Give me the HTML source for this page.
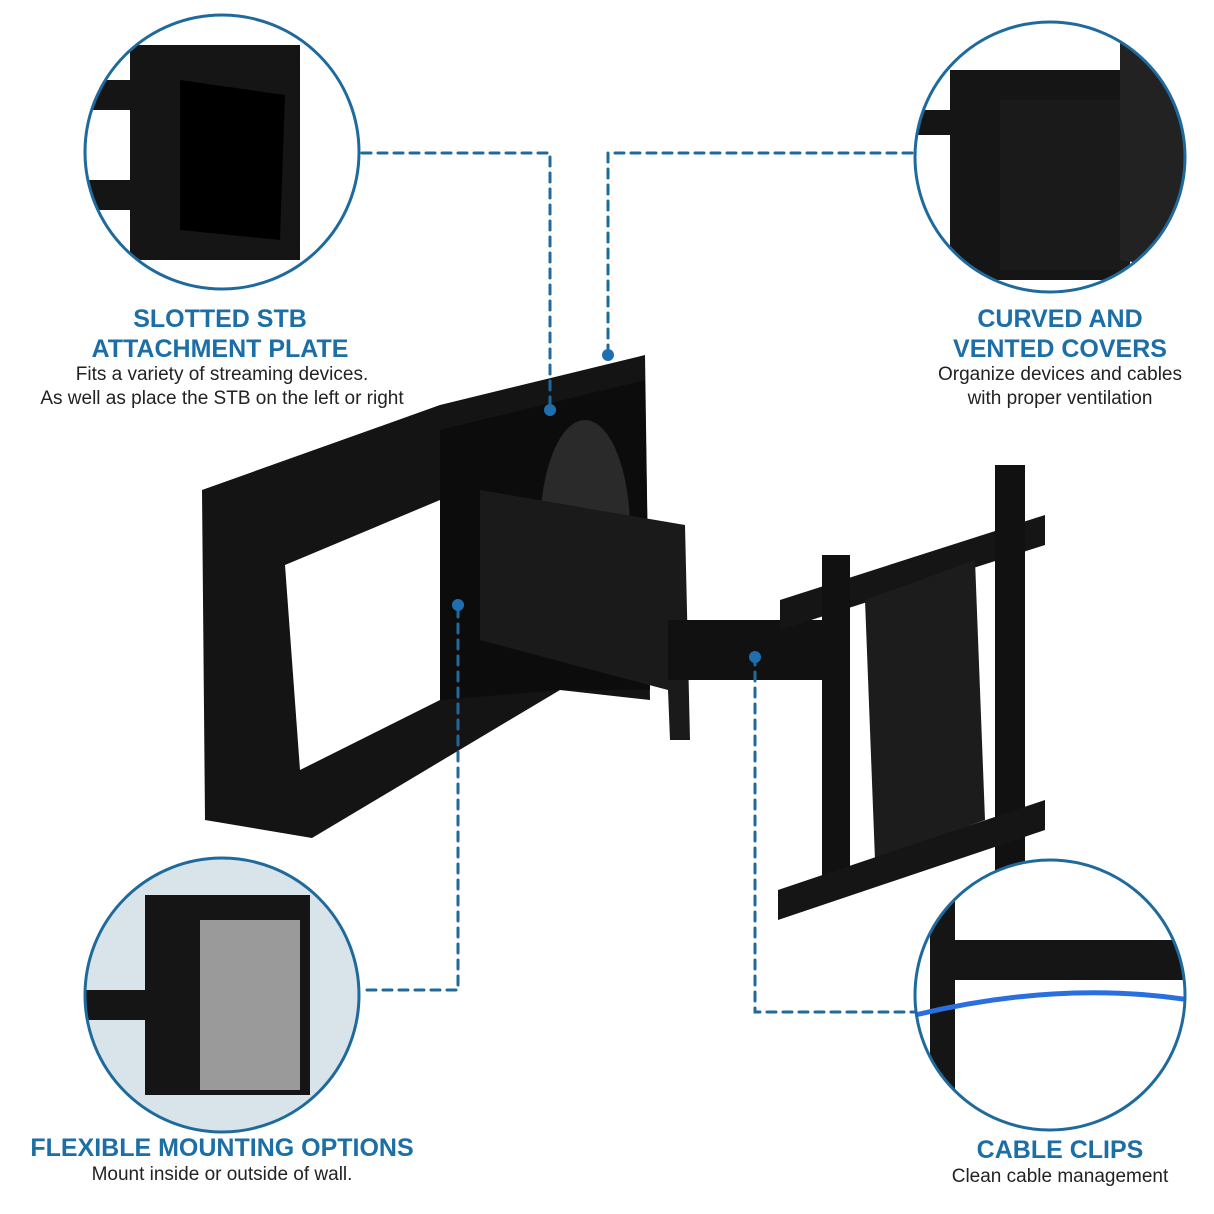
<!DOCTYPE html>
<html><head><style>
body{margin:0;background:#fff;}
.t{position:absolute;font-family:"Liberation Sans",sans-serif;text-align:center;}
.h{color:#1b6ea6;font-weight:bold;font-size:25px;line-height:30px;}
.s{color:#222;font-size:19px;line-height:24px;}
</style></head><body>
<div style="position:relative;width:1214px;height:1214px;overflow:hidden">
<svg width="1214" height="1214" style="position:absolute;left:0;top:0">
<defs>
<clipPath id="c1"><circle cx="222" cy="152" r="136"/></clipPath>
<clipPath id="c2"><circle cx="1050" cy="157" r="134"/></clipPath>
<clipPath id="c3"><circle cx="222" cy="995" r="136"/></clipPath>
<clipPath id="c4"><circle cx="1050" cy="995" r="134"/></clipPath>
</defs>
<!-- main frame -->
<path d="M202 490 L440 405 L645 355 L650 700 L560 690 L312 838 L205 820 Z" fill="#141414"/>
<path d="M285 565 L440 500 L440 700 L300 770 Z" fill="#fff"/>
<path d="M440 430 L645 380 L650 690 L560 690 L440 700 Z" fill="#0c0c0c"/>
<ellipse cx="585" cy="530" rx="45" ry="110" fill="#2a2a2a"/>
<path d="M480 490 L685 525 L690 740 L670 740 L668 690 L480 640 Z" fill="#1a1a1a"/>
<rect x="668" y="620" width="170" height="60" fill="#111"/>
<path d="M780 600 L1045 515 L1045 545 L780 630Z" fill="#151515"/>
<rect x="822" y="555" width="28" height="340" fill="#111"/>
<rect x="995" y="465" width="30" height="430" fill="#111"/>
<path d="M865 600 L975 560 L985 820 L875 860Z" fill="#1c1c1c"/>
<path d="M778 890 L1045 800 L1045 830 L778 920Z" fill="#151515"/>
<!-- dashes on top -->
<g stroke="#1f6a9c" stroke-width="3" fill="none" stroke-dasharray="9,7" stroke-linecap="round">
<path d="M362 153 H550 V410"/>
<path d="M912 153 H608 V355"/>
<path d="M367 990 H458 V605"/>
<path d="M920 1012 H755 V657"/>
</g>
<g fill="#1f6fb0"><circle cx="550" cy="410" r="6"/><circle cx="608" cy="355" r="6"/><circle cx="458" cy="605" r="6"/><circle cx="755" cy="657" r="6"/></g>
<!-- circles -->
<g fill="#fff"><circle cx="222" cy="152" r="137"/><circle cx="1050" cy="157" r="135"/><circle cx="222" cy="995" r="137"/><circle cx="1050" cy="995" r="135"/></g>
<g clip-path="url(#c1)">
<rect x="130" y="45" width="170" height="215" fill="#151515"/>
<rect x="80" y="80" width="60" height="30" fill="#151515"/>
<rect x="80" y="180" width="60" height="30" fill="#151515"/>
<path d="M180 80 L285 95 L280 240 L180 230Z" fill="#000"/>
</g>
<g clip-path="url(#c2)">
<rect x="950" y="70" width="180" height="210" fill="#151515"/>
<rect x="910" y="110" width="50" height="25" fill="#151515"/>
<path d="M1000 100 L1130 100 L1130 270 L1000 270Z" fill="#1a1a1a"/>
<path d="M1120 40 L1185 60 L1185 270 L1120 260Z" fill="#222"/>
</g>
<g clip-path="url(#c3)">
<rect x="80" y="850" width="290" height="300" fill="#d8e3ea"/>
<rect x="145" y="895" width="165" height="200" fill="#151515"/>
<rect x="200" y="920" width="100" height="170" fill="#9a9a9a"/>
<rect x="80" y="990" width="80" height="30" fill="#151515"/>
</g>
<g clip-path="url(#c4)">
<rect x="930" y="880" width="25" height="260" fill="#151515"/>
<rect x="950" y="940" width="240" height="40" fill="#151515"/>
<path d="M915 1015 Q1060 980 1190 1000" stroke="#2a6fe0" stroke-width="5" fill="none"/>
</g>
<g fill="none" stroke="#1f6a9c" stroke-width="3">
<circle cx="222" cy="152" r="137"/><circle cx="1050" cy="157" r="135"/>
<circle cx="222" cy="995" r="137"/><circle cx="1050" cy="995" r="135"/>
</g>
</svg>
<div class="t h" style="left:60px;top:304px;width:320px">SLOTTED STB<br>ATTACHMENT PLATE</div>
<div class="t s" style="left:0;top:363px;width:444px">Fits a variety of streaming devices.<br>As well as place the STB on the left or right</div>
<div class="t h" style="left:900px;top:304px;width:320px">CURVED AND<br>VENTED COVERS</div>
<div class="t s" style="left:900px;top:363px;width:320px">Organize devices and cables<br>with proper ventilation</div>
<div class="t h" style="left:0;top:1133px;width:444px">FLEXIBLE MOUNTING OPTIONS</div>
<div class="t s" style="left:0;top:1163px;width:444px">Mount inside or outside of wall.</div>
<div class="t h" style="left:900px;top:1135px;width:320px">CABLE CLIPS</div>
<div class="t s" style="left:900px;top:1165px;width:320px">Clean cable management</div>
</div>
</body></html>
